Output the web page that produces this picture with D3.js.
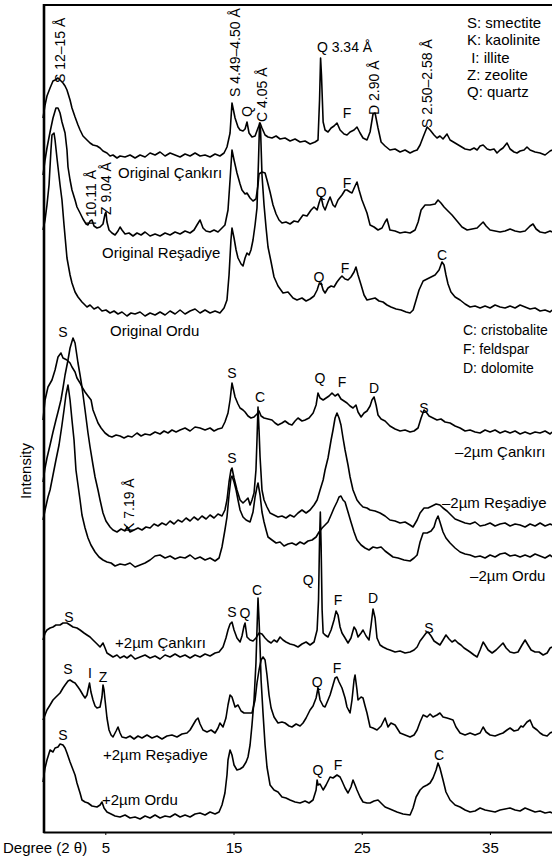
<!DOCTYPE html>
<html>
<head>
<meta charset="utf-8">
<script src="https://cdn.jsdelivr.net/npm/d3@7"></script>
<style>
  body { margin: 0; background: #fff; }
  svg text { font-family: "Liberation Sans", Arial, sans-serif; fill: #000; }
</style>
</head>
<body>
<div id="xrdWrapper"></div>
<script>
// XRD patterns: [2theta (degree), intensity (a.u., patterns stacked)]
const origCankiri = [[0.14,714],[0.30,727],[0.45,736],[0.69,744],[0.92,751],[1.08,752],[1.31,754],[1.47,752],[1.70,749],[1.86,746],[2.01,742],[2.25,732],[2.40,724],[2.64,715],[2.87,707],[3.03,702],[3.26,696],[3.57,692],[3.81,689],[4.04,687],[4.35,686],[4.59,684],[4.82,681],[5.13,679],[5.37,676],[5.60,677],[5.91,674],[6.15,676],[6.54,675],[6.93,677],[7.32,674],[7.71,677],[8.10,675],[8.49,679],[8.88,677],[9.27,680],[9.66,676],[10.05,679],[10.44,677],[10.83,675],[11.22,678],[11.61,676],[12.00,679],[12.39,676],[12.78,677],[13.17,675],[13.56,678],[13.94,676],[14.26,679],[14.49,685],[14.73,699],[14.88,729],[15.12,714],[15.35,705],[15.51,702],[15.74,701],[15.90,703],[16.05,710],[16.21,699],[16.44,695],[16.68,696],[16.91,704],[17.07,709],[17.22,704],[17.46,697],[17.69,695],[18.00,694],[18.32,696],[18.63,693],[19.02,694],[19.41,691],[19.80,693],[20.19,690],[20.58,691],[20.97,688],[21.36,690],[21.59,692],[21.71,732],[21.79,774],[21.86,757],[21.99,710],[22.14,702],[22.37,700],[22.61,704],[22.84,706],[23.07,709],[23.31,702],[23.62,698],[23.85,697],[24.09,700],[24.40,702],[24.63,705],[24.87,699],[25.10,694],[25.41,692],[25.65,700],[25.88,718],[26.04,719],[26.27,704],[26.51,690],[26.82,686],[27.20,682],[27.60,683],[27.99,680],[28.38,682],[28.77,679],[29.08,681],[29.32,682],[29.55,687],[29.79,695],[30.10,705],[30.33,702],[30.64,697],[30.87,694],[31.10,696],[31.34,693],[31.65,698],[31.89,692],[32.28,689],[32.67,686],[33.06,683],[33.45,682],[33.76,684],[34.00,682],[34.23,686],[34.47,687],[34.78,683],[35.01,682],[35.32,683],[35.55,679],[35.79,682],[36.02,684],[36.33,689],[36.57,683],[36.88,680],[37.11,679],[37.35,681],[37.66,682],[37.89,685],[38.13,682],[38.52,680],[38.91,679],[39.30,677],[39.69,681],[39.84,682]];
const origResadiye = [[0.14,657],[0.30,672],[0.45,684],[0.69,700],[0.92,714],[1.15,724],[1.31,724],[1.47,719],[1.62,710],[1.86,699],[2.01,682],[2.09,665],[2.25,652],[2.40,642],[2.64,632],[2.79,625],[3.03,619],[3.26,613],[3.50,608],[3.65,607],[3.81,611],[3.96,612],[4.12,606],[4.35,604],[4.59,605],[4.82,608],[4.98,618],[5.05,620],[5.13,610],[5.29,602],[5.52,599],[5.76,597],[5.99,601],[6.15,605],[6.30,602],[6.54,598],[6.85,599],[7.16,596],[7.47,599],[7.79,597],[8.10,600],[8.49,596],[8.88,598],[9.27,596],[9.66,599],[10.05,597],[10.44,600],[10.83,598],[11.22,601],[11.61,599],[11.92,602],[12.15,607],[12.39,612],[12.62,604],[12.86,601],[13.17,600],[13.48,602],[13.79,600],[14.10,604],[14.33,607],[14.57,622],[14.73,652],[14.88,682],[15.04,672],[15.27,659],[15.51,648],[15.66,642],[15.90,638],[16.05,639],[16.29,634],[16.52,631],[16.75,633],[16.91,647],[16.99,658],[17.22,660],[17.46,659],[17.61,652],[17.85,640],[18.08,627],[18.32,618],[18.55,612],[18.78,609],[19.09,610],[19.41,608],[19.72,611],[20.03,610],[20.42,617],[20.73,616],[21.05,622],[21.28,625],[21.52,622],[21.67,629],[21.83,635],[21.99,626],[22.14,622],[22.37,630],[22.53,635],[22.76,627],[22.92,625],[23.15,632],[23.46,637],[23.70,642],[23.85,642],[24.09,640],[24.24,639],[24.48,646],[24.63,650],[24.79,642],[25.02,632],[25.26,624],[25.41,619],[25.65,607],[25.96,605],[26.27,602],[26.58,604],[26.82,610],[26.97,613],[27.20,602],[27.60,601],[27.99,599],[28.38,600],[28.77,599],[29.16,602],[29.40,610],[29.63,622],[29.94,627],[30.33,627],[30.72,628],[30.95,632],[31.18,629],[31.42,625],[31.65,622],[32.04,617],[32.43,611],[32.82,605],[33.22,602],[33.61,603],[34.00,604],[34.23,607],[34.47,610],[34.70,606],[35.01,602],[35.40,601],[35.79,600],[36.18,601],[36.57,603],[36.96,601],[37.35,600],[37.74,601],[38.13,606],[38.36,608],[38.60,603],[38.91,600],[39.30,599],[39.69,601],[39.84,600]];
const origOrdu = [[0.14,602],[0.30,612],[0.45,627],[0.61,647],[0.76,682],[0.84,697],[1.00,699],[1.08,692],[1.23,674],[1.31,665],[1.47,647],[1.62,632],[1.78,607],[2.01,574],[2.25,557],[2.40,549],[2.64,540],[2.87,535],[3.18,530],[3.57,525],[3.81,527],[4.12,523],[4.43,525],[4.74,521],[5.05,522],[5.37,519],[5.68,521],[5.99,518],[6.30,520],[6.69,516],[7.00,519],[7.32,518],[7.71,520],[8.10,516],[8.49,519],[8.88,517],[9.27,520],[9.66,517],[10.05,521],[10.44,518],[10.83,522],[11.22,518],[11.61,521],[12.00,523],[12.39,519],[12.78,522],[13.17,519],[13.56,521],[13.94,519],[14.26,524],[14.49,532],[14.65,557],[14.80,592],[14.88,604],[15.04,594],[15.20,582],[15.35,574],[15.59,568],[15.74,566],[15.90,574],[16.05,579],[16.21,577],[16.36,582],[16.52,592],[16.68,607],[16.83,624],[16.95,672],[17.03,709],[17.11,702],[17.22,657],[17.38,627],[17.54,604],[17.69,585],[17.93,570],[18.16,555],[18.47,546],[18.86,539],[19.25,540],[19.64,534],[19.95,532],[20.34,534],[20.66,531],[20.97,533],[21.28,536],[21.52,542],[21.67,548],[21.83,549],[21.99,542],[22.14,539],[22.37,544],[22.61,546],[22.84,545],[23.07,550],[23.31,554],[23.46,556],[23.70,553],[23.93,552],[24.16,555],[24.40,560],[24.55,565],[24.71,557],[24.95,547],[25.18,537],[25.41,532],[25.73,533],[26.04,534],[26.35,531],[26.66,530],[26.97,527],[27.28,525],[27.68,523],[28.07,522],[28.46,520],[28.77,519],[29.01,522],[29.24,532],[29.47,542],[29.79,551],[30.10,553],[30.41,555],[30.72,557],[31.03,562],[31.26,570],[31.42,567],[31.57,557],[31.73,548],[31.96,540],[32.28,535],[32.67,532],[33.06,528],[33.45,525],[33.84,526],[34.23,524],[34.62,526],[35.01,524],[35.40,527],[35.79,525],[36.18,524],[36.57,526],[36.96,524],[37.35,527],[37.74,525],[38.13,523],[38.52,524],[38.91,521],[39.30,522],[39.69,520],[39.84,522]];
const fineCankiri = [[0.14,412],[0.30,432],[0.53,445],[0.84,452],[1.08,462],[1.31,475],[1.54,479],[1.70,474],[2.01,472],[2.25,469],[2.40,465],[2.64,460],[2.79,454],[3.03,449],[3.18,445],[3.42,440],[3.65,436],[3.89,432],[4.04,422],[4.28,414],[4.43,409],[4.67,404],[4.98,399],[5.29,396],[5.52,395],[5.84,397],[6.15,396],[6.46,394],[6.77,396],[7.08,395],[7.47,399],[7.79,396],[8.10,398],[8.49,397],[8.88,400],[9.27,398],[9.58,401],[9.89,399],[10.20,402],[10.52,400],[10.83,402],[11.22,404],[11.61,401],[12.00,405],[12.39,404],[12.78,402],[13.17,404],[13.48,401],[13.79,403],[14.10,404],[14.33,410],[14.57,419],[14.73,432],[14.88,449],[15.12,435],[15.35,428],[15.51,424],[15.74,422],[15.90,420],[16.13,416],[16.36,414],[16.60,415],[16.83,418],[16.99,421],[17.15,416],[17.38,414],[17.69,413],[18.00,412],[18.24,409],[18.47,407],[18.78,409],[19.02,411],[19.33,408],[19.56,407],[19.80,411],[20.03,414],[20.34,411],[20.58,412],[20.89,414],[21.21,419],[21.44,427],[21.59,439],[21.75,434],[21.99,432],[22.22,434],[22.45,436],[22.68,439],[22.92,436],[23.15,438],[23.38,433],[23.62,431],[23.85,429],[24.09,426],[24.32,424],[24.55,427],[24.71,420],[24.95,415],[25.18,419],[25.41,421],[25.65,426],[25.80,432],[25.96,435],[26.12,427],[26.27,417],[26.51,413],[26.82,411],[27.20,406],[27.60,403],[27.99,401],[28.38,402],[28.77,400],[29.08,401],[29.39,404],[29.63,414],[29.86,422],[30.02,420],[30.25,416],[30.56,414],[30.87,412],[31.18,413],[31.50,410],[31.89,409],[32.28,406],[32.67,404],[33.06,401],[33.45,402],[33.84,400],[34.23,399],[34.62,402],[35.01,400],[35.40,402],[35.79,399],[36.18,401],[36.57,399],[36.96,401],[37.35,398],[37.74,400],[38.13,398],[38.52,400],[38.91,399],[39.30,401],[39.69,398],[39.84,400]];
const fineResadiye = [[0.14,350],[0.30,364],[0.45,374],[0.69,387],[0.92,400],[1.15,412],[1.31,420],[1.54,432],[1.70,444],[1.86,457],[2.09,472],[2.25,484],[2.48,494],[2.64,489],[2.87,469],[3.03,457],[3.18,445],[3.42,422],[3.65,399],[3.81,385],[4.04,367],[4.20,355],[4.43,342],[4.59,332],[4.82,319],[5.05,311],[5.37,305],[5.60,302],[5.91,300],[6.23,303],[6.54,301],[6.69,305],[6.93,300],[7.24,302],[7.55,304],[7.86,302],[8.17,305],[8.49,304],[8.80,308],[9.11,306],[9.42,309],[9.74,307],[10.05,311],[10.36,308],[10.67,312],[10.98,310],[11.30,314],[11.61,311],[11.92,315],[12.23,312],[12.54,316],[12.86,313],[13.17,317],[13.48,314],[13.79,318],[14.10,316],[14.33,322],[14.49,332],[14.65,350],[14.80,362],[14.88,364],[15.04,354],[15.27,342],[15.51,332],[15.74,329],[15.98,332],[16.13,334],[16.29,327],[16.44,332],[16.60,339],[16.75,362],[16.83,392],[16.91,425],[16.99,402],[17.07,375],[17.22,342],[17.38,332],[17.61,325],[17.85,319],[18.16,317],[18.47,315],[18.78,316],[19.09,314],[19.41,317],[19.72,315],[20.03,319],[20.34,322],[20.66,319],[20.97,322],[21.28,327],[21.52,332],[21.75,342],[21.99,352],[22.14,362],[22.37,374],[22.61,392],[22.76,402],[22.92,414],[23.07,419],[23.23,414],[23.38,407],[23.54,394],[23.70,382],[23.93,367],[24.09,355],[24.32,342],[24.63,332],[24.87,328],[25.10,325],[25.41,324],[25.65,322],[26.04,321],[26.43,319],[26.82,316],[27.20,312],[27.60,311],[27.99,309],[28.38,310],[28.77,307],[29.00,305],[29.32,312],[29.55,319],[29.86,324],[30.17,324],[30.49,326],[30.80,328],[31.10,327],[31.34,324],[31.65,321],[31.96,317],[32.28,313],[32.67,311],[33.06,309],[33.45,308],[33.84,310],[34.23,306],[34.62,307],[35.01,309],[35.40,306],[35.79,308],[36.18,309],[36.57,306],[36.96,308],[37.35,307],[37.74,305],[38.13,308],[38.52,306],[38.91,309],[39.30,306],[39.69,308],[39.84,307]];
const fineOrdu = [[0.14,312],[0.30,322],[0.53,335],[0.69,342],[0.92,357],[1.15,372],[1.39,387],[1.62,407],[1.78,422],[1.93,437],[2.09,447],[2.25,432],[2.40,412],[2.56,392],[2.71,362],[2.87,347],[3.03,332],[3.18,317],[3.42,304],[3.65,294],[3.88,287],[4.20,280],[4.51,275],[4.82,272],[5.13,270],[5.45,269],[5.76,266],[6.15,268],[6.54,267],[6.93,269],[7.32,265],[7.71,267],[8.10,269],[8.49,272],[8.88,276],[9.27,277],[9.66,274],[10.05,276],[10.44,273],[10.83,275],[11.22,274],[11.61,277],[12.00,273],[12.39,275],[12.78,272],[13.17,274],[13.56,271],[13.87,274],[14.10,285],[14.33,302],[14.49,315],[14.65,337],[14.80,354],[14.88,356],[15.04,350],[15.20,342],[15.35,332],[15.51,322],[15.74,315],[15.98,312],[16.29,310],[16.52,320],[16.68,335],[16.83,345],[16.91,349],[17.07,337],[17.22,320],[17.38,310],[17.54,302],[17.69,295],[18.00,292],[18.32,289],[18.63,290],[18.94,286],[19.25,288],[19.56,289],[19.88,287],[20.19,290],[20.50,288],[20.81,291],[21.13,292],[21.44,295],[21.67,300],[21.91,304],[22.14,307],[22.37,310],[22.61,317],[22.84,324],[23.07,330],[23.23,335],[23.38,336],[23.54,332],[23.70,330],[23.93,320],[24.16,310],[24.40,300],[24.63,292],[24.95,287],[25.26,284],[25.57,282],[25.88,285],[26.19,284],[26.51,285],[26.82,281],[27.13,278],[27.44,275],[27.83,274],[28.30,272],[28.77,271],[29.08,274],[29.32,277],[29.55,290],[29.79,299],[30.10,299],[30.41,301],[30.64,305],[30.80,312],[30.95,316],[31.10,310],[31.34,300],[31.57,294],[31.89,289],[32.28,284],[32.67,280],[33.06,278],[33.45,277],[33.84,275],[34.23,276],[34.62,274],[35.01,277],[35.40,275],[35.79,278],[36.18,279],[36.57,276],[36.96,277],[37.35,275],[37.74,277],[38.13,275],[38.52,278],[38.91,276],[39.30,274],[39.69,277],[39.84,275]];
const coarseCankiri = [[0.14,192],[0.30,199],[0.45,202],[0.69,204],[0.92,205],[1.15,207],[1.47,207],[1.70,209],[2.01,209],[2.25,207],[2.48,205],[2.79,204],[3.03,202],[3.34,199],[3.57,197],[3.81,195],[4.04,192],[4.28,189],[4.59,185],[4.82,189],[4.98,184],[5.13,179],[5.37,177],[5.60,175],[5.91,177],[6.15,174],[6.46,176],[6.69,174],[7.00,177],[7.32,173],[7.71,175],[8.10,177],[8.49,174],[8.88,176],[9.27,173],[9.66,177],[10.05,175],[10.44,178],[10.83,175],[11.22,177],[11.61,174],[12.00,177],[12.39,175],[12.78,178],[13.17,176],[13.56,179],[13.87,180],[14.18,185],[14.41,194],[14.57,202],[14.73,208],[14.88,210],[15.04,202],[15.27,194],[15.51,190],[15.66,196],[15.82,206],[15.90,209],[16.05,195],[16.29,192],[16.52,191],[16.75,194],[16.99,199],[17.22,198],[17.46,194],[17.69,191],[17.93,189],[18.16,192],[18.39,190],[18.63,195],[18.86,192],[19.09,190],[19.41,188],[19.72,187],[20.03,185],[20.34,188],[20.66,190],[20.97,187],[21.28,190],[21.52,202],[21.63,232],[21.71,292],[21.77,320],[21.83,287],[21.91,222],[21.99,199],[22.14,197],[22.37,195],[22.61,202],[22.84,212],[23.00,221],[23.15,217],[23.31,205],[23.46,199],[23.70,194],[23.93,189],[24.16,194],[24.40,205],[24.55,202],[24.71,195],[24.95,199],[25.10,202],[25.34,196],[25.57,192],[25.73,207],[25.88,223],[26.04,214],[26.19,194],[26.43,187],[26.66,185],[26.97,183],[27.20,182],[27.60,180],[27.99,181],[28.38,179],[28.77,180],[29.08,182],[29.32,185],[29.55,191],[29.79,195],[30.02,199],[30.17,200],[30.41,196],[30.64,191],[30.87,189],[31.10,187],[31.34,192],[31.57,197],[31.81,193],[32.04,190],[32.28,192],[32.51,189],[32.74,187],[32.98,184],[33.22,182],[33.45,180],[33.76,177],[34.00,175],[34.23,182],[34.47,190],[34.62,187],[34.86,182],[35.17,179],[35.48,182],[35.79,186],[36.02,189],[36.26,184],[36.57,180],[36.88,179],[37.19,180],[37.50,187],[37.74,192],[37.97,187],[38.21,182],[38.52,180],[38.83,180],[39.15,177],[39.46,179],[39.69,184],[39.84,185]];
const coarseResadiye = [[0.14,112],[0.30,117],[0.45,122],[0.69,127],[0.92,132],[1.15,135],[1.47,139],[1.70,144],[1.86,147],[2.09,151],[2.25,152],[2.48,150],[2.64,149],[2.87,145],[3.03,142],[3.26,137],[3.42,134],[3.57,137],[3.65,142],[3.77,149],[3.88,140],[4.04,132],[4.20,126],[4.35,124],[4.59,125],[4.74,135],[4.82,147],[4.90,142],[4.98,132],[5.13,114],[5.29,102],[5.45,97],[5.60,95],[5.84,101],[5.99,105],[6.15,99],[6.30,95],[6.62,94],[6.93,96],[7.24,93],[7.55,96],[7.86,94],[8.25,97],[8.64,94],[9.03,96],[9.42,93],[9.81,96],[10.20,97],[10.59,95],[10.98,98],[11.37,99],[11.61,102],[11.84,107],[12.07,112],[12.23,114],[12.39,108],[12.62,102],[12.93,100],[13.25,102],[13.56,99],[13.79,104],[13.94,109],[14.18,105],[14.41,114],[14.57,127],[14.73,137],[14.88,135],[15.12,125],[15.35,127],[15.59,121],[15.82,119],[16.13,119],[16.44,119],[16.68,132],[16.83,149],[16.99,162],[17.15,172],[17.30,175],[17.46,172],[17.61,157],[17.77,137],[17.93,124],[18.16,115],[18.47,109],[18.78,110],[19.02,109],[19.33,106],[19.56,105],[19.88,108],[20.19,106],[20.42,109],[20.66,114],[20.97,122],[21.20,126],[21.44,134],[21.59,144],[21.75,132],[21.99,126],[22.14,125],[22.37,132],[22.53,137],[22.76,147],[22.92,154],[23.07,155],[23.23,150],[23.46,144],[23.70,134],[23.85,125],[24.09,119],[24.24,132],[24.40,152],[24.48,157],[24.63,142],[24.71,132],[24.95,135],[25.10,134],[25.26,126],[25.41,119],[25.65,105],[25.88,104],[26.19,102],[26.51,106],[26.82,114],[27.05,105],[27.28,109],[27.60,107],[27.99,99],[28.38,97],[28.77,95],[29.08,97],[29.32,102],[29.55,110],[29.79,117],[30.10,115],[30.33,118],[30.56,115],[30.87,117],[31.10,119],[31.34,115],[31.65,114],[31.89,113],[32.12,112],[32.35,105],[32.67,99],[33.06,97],[33.45,99],[33.84,97],[34.23,99],[34.47,105],[34.70,100],[35.01,97],[35.40,96],[35.79,98],[36.02,99],[36.33,102],[36.57,104],[36.88,101],[37.19,102],[37.42,106],[37.58,105],[37.89,110],[38.13,112],[38.36,105],[38.68,102],[38.91,99],[39.15,97],[39.46,96],[39.69,99],[39.84,100]];
const coarseOrdu = [[0.14,50],[0.30,64],[0.45,72],[0.69,82],[0.92,80],[1.08,84],[1.31,85],[1.47,88],[1.70,87],[1.86,84],[2.01,79],[2.25,70],[2.40,65],[2.64,57],[2.79,49],[3.03,39],[3.18,32],[3.42,30],[3.65,29],[3.96,26],[4.35,25],[4.59,27],[4.74,30],[4.90,24],[5.13,20],[5.45,18],[5.76,16],[6.15,15],[6.54,17],[6.93,14],[7.32,15],[7.71,13],[8.10,16],[8.49,14],[8.88,17],[9.27,14],[9.66,16],[10.05,15],[10.44,18],[10.83,15],[11.22,17],[11.61,15],[12.00,18],[12.39,19],[12.78,17],[13.17,20],[13.56,18],[13.87,20],[14.10,27],[14.33,39],[14.49,57],[14.57,72],[14.73,82],[14.88,77],[15.04,67],[15.27,62],[15.51,63],[15.74,65],[15.98,70],[16.13,75],[16.29,87],[16.44,107],[16.60,132],[16.75,169],[16.83,202],[16.91,234],[16.99,212],[17.07,185],[17.15,152],[17.30,119],[17.46,87],[17.61,65],[17.85,47],[18.16,42],[18.47,40],[18.78,35],[19.09,34],[19.41,32],[19.80,30],[20.19,29],[20.58,31],[20.89,29],[21.20,32],[21.44,42],[21.52,52],[21.59,47],[21.75,48],[21.99,42],[22.22,47],[22.53,55],[22.76,54],[23.07,57],[23.31,55],[23.46,51],[23.70,44],[23.93,39],[24.16,45],[24.32,52],[24.48,47],[24.63,42],[24.87,35],[25.10,30],[25.41,29],[25.65,29],[25.96,31],[26.27,32],[26.58,28],[26.82,25],[27.20,23],[27.75,20],[28.22,18],[28.77,17],[29.00,24],[29.24,35],[29.55,42],[29.79,45],[30.10,47],[30.33,49],[30.56,54],[30.80,62],[30.95,69],[31.10,64],[31.34,52],[31.57,40],[31.89,32],[32.28,27],[32.67,25],[33.06,22],[33.45,20],[33.84,21],[34.23,24],[34.62,22],[35.01,21],[35.40,20],[35.79,22],[36.18,23],[36.57,24],[36.96,22],[37.35,21],[37.74,24],[38.13,22],[38.52,20],[38.91,21],[39.30,19],[39.69,20],[39.84,19]];

const patterns = [origCankiri, origResadiye, origOrdu, fineCankiri, fineResadiye, fineOrdu, coarseCankiri, coarseResadiye, coarseOrdu];

// sample names: [text, 2theta, intensity]
const sampleLabels = [
  ["Original Çankırı", 5.99, 654],
  ["Original Reşadiye", 4.74, 574],
  ["Original Ordu", 5.37, 496],
  ["\u20132\u00b5m Çankırı", 32.28, 375],
  ["\u20132\u00b5m Reşadiye", 31.26, 324],
  ["\u20132\u00b5m Ordu", 33.45, 251],
  ["+2\u00b5m Çankırı", 5.76, 184],
  ["+2\u00b5m Reşadiye", 4.82, 72],
  ["+2\u00b5m Ordu", 4.74, 27]
];
// peak letters (centred)
const peakLabels = [
  ["Q 3.34 Å", 23.66, 780], ["F", 23.85, 714],
  ["Q", 21.83, 635], ["F", 23.85, 644],
  ["C", 31.26, 572], ["Q", 21.67, 550], ["F", 23.70, 559], ["S", 1.70, 495],
  ["S", 14.88, 454], ["C", 17.07, 430], ["Q", 21.75, 449], ["F", 23.46, 445], ["D", 25.96, 439], ["S", 29.86, 419],
  ["S", 14.88, 369], ["Q", 20.82, 247],
  ["S", 2.17, 210], ["S", 14.88, 215], ["Q", 15.90, 214], ["C", 16.83, 237], ["F", 23.15, 227], ["D", 25.88, 229], ["S", 30.25, 199],
  ["S", 2.09, 158], ["I", 3.81, 154], ["Z", 4.82, 150], ["Q", 21.52, 145], ["F", 23.07, 159],
  ["S", 1.70, 92], ["Q", 21.59, 57], ["F", 23.15, 62], ["C", 31.03, 72]
];
// d-spacing labels, written vertically
const spacingLabels = [
  ["S 12\u201315 Å", 1.86, 749],
  ["S 4.49\u20134.50 Å", 15.51, 735],
  ["Q", 16.44, 715],
  ["C 4.05 Å", 17.61, 710],
  ["D 2.90 Å", 26.35, 717],
  ["S 2.50\u20132.58 Å", 30.49, 704],
  ["I 10.11 Å", 4.28, 607],
  ["Z 9.04 Å", 5.45, 617],
  ["K 7.19 Å", 7.24, 300]
];
const legendTop = ["S: smectite", "K: kaolinite", " I: illite", "Z: zeolite", "Q: quartz"];
const legendMid = ["C: cristobalite", "F: feldspar", "D: dolomite"];
const xTicks = [5, 15, 25, 35];

const width = 552, height = 862;
const svg = d3.select("#xrdWrapper").append("svg")
    .attr("width", width).attr("height", height);

const xScale = d3.scaleLinear().domain([0.14, 39.84]).range([43, 552]);
const yScale = d3.scaleLinear().domain([0, 830]).range([832, 2]);

// frame
svg.append("line").attr("x1", 43).attr("x2", 552).attr("y1", 5).attr("y2", 5)
    .attr("stroke", "#000").attr("stroke-width", 2.2);
svg.append("line").attr("x1", 44).attr("x2", 44).attr("y1", 4).attr("y2", 833)
    .attr("stroke", "#000").attr("stroke-width", 2.6);

// x axis
const xAxis = svg.append("g")
    .attr("transform", "translate(0,832)")
    .call(d3.axisBottom(xScale).tickValues(xTicks).tickSize(3).tickSizeOuter(0).tickPadding(7));
xAxis.select(".domain").attr("stroke-width", 2.2);
xAxis.selectAll("text").attr("font-size", 15).style("font-family", '"Liberation Sans", Arial, sans-serif');

svg.append("text").attr("x", 3).attr("y", 853).attr("font-size", 15).text("Degree (2 \u03b8)");
svg.append("text").attr("transform", "translate(31,471) rotate(-90)")
    .attr("text-anchor", "middle").attr("font-size", 15).text("Intensity");

// patterns
const line = d3.line().x(d => xScale(d[0])).y(d => yScale(d[1]));
svg.selectAll("path.pattern").data(patterns).enter().append("path")
    .attr("class", "pattern")
    .attr("fill", "none")
    .attr("stroke", "#000")
    .attr("stroke-width", 1.6)
    .attr("stroke-linejoin", "round")
    .attr("d", line);

// labels
svg.selectAll("text.sample").data(sampleLabels).enter().append("text")
    .attr("class", "sample")
    .attr("x", d => xScale(d[1])).attr("y", d => yScale(d[2]))
    .attr("font-size", 15).text(d => d[0]);
svg.selectAll("text.peak").data(peakLabels).enter().append("text")
    .attr("class", "peak")
    .attr("x", d => xScale(d[1])).attr("y", d => yScale(d[2]))
    .attr("text-anchor", "middle").attr("font-size", 14).text(d => d[0]);
svg.selectAll("text.spacing").data(spacingLabels).enter().append("text")
    .attr("class", "spacing")
    .attr("transform", d => "translate(" + xScale(d[1]) + "," + yScale(d[2]) + ") rotate(-90)")
    .attr("font-size", 14).text(d => d[0]);

// mineral keys
svg.selectAll("text.keyTop").data(legendTop).enter().append("text")
    .attr("class", "keyTop")
    .attr("x", 467).attr("y", (d, i) => 28 + i * 17.3)
    .attr("font-size", 15).style("white-space", "pre").text(d => d);
svg.selectAll("text.keyMid").data(legendMid).enter().append("text")
    .attr("class", "keyMid")
    .attr("x", 463).attr("y", (d, i) => 335 + i * 19)
    .attr("font-size", 14).text(d => d);
</script>
</body>
</html>
